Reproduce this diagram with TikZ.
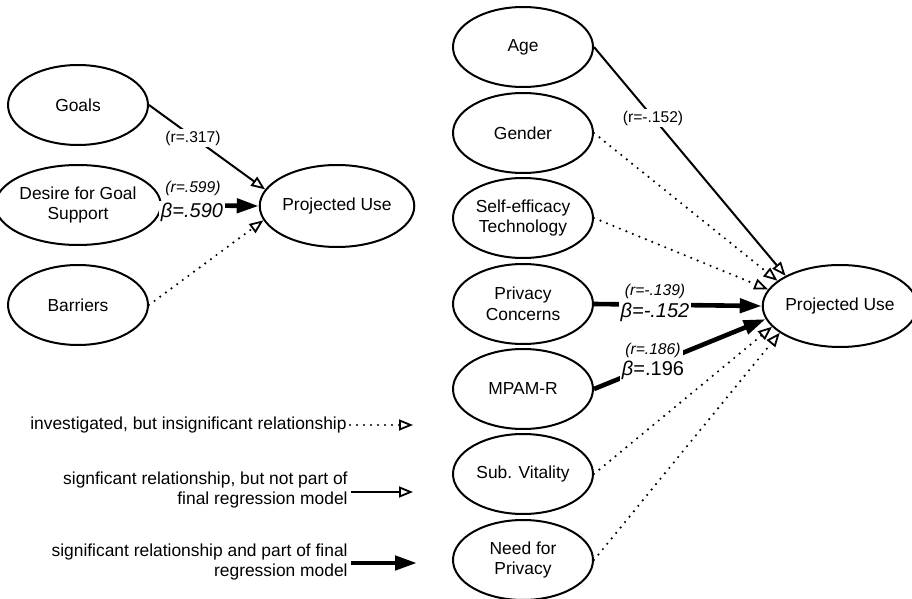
\documentclass[tikz,border=0pt]{standalone}
\usepackage{fontspec}
\setmainfont{Liberation Sans}
\usetikzlibrary{shapes.geometric,arrows.meta}

\begin{document}
\begin{tikzpicture}[x=0.5pt, y=-0.5pt,
    var/.style={ellipse, draw, line width=1pt, minimum width=70pt, minimum height=40pt,
      inner sep=0pt, align=center, font=\fontsize{8.7}{10.4}\selectfont},
    outc/.style={var, minimum height=41pt},
    nonsig/.style={line width=1.2pt, line cap=round, dash pattern=on 0pt off 3.5pt,
      -{Triangle[open, length=7pt, width=5.5pt, line width=0.9pt]}},
    sig/.style={line width=1pt, -{Triangle[open, length=7pt, width=5.5pt, line width=0.9pt]}},
    model/.style={line width=2.3pt, -{Triangle[length=11pt, width=7pt]}},
    rlab/.style={fill=white, inner sep=1pt, font=\fontsize{7.8}{9}\selectfont},
    rlabit/.style={rlab, font=\fontsize{7.8}{9}\selectfont\itshape},
    blab/.style={fill=white, inner sep=1pt, font=\fontsize{10}{12}\selectfont\itshape},
    legtext/.style={anchor=east, align=right, inner sep=1.5pt, font=\fontsize{8.7}{10.4}\selectfont}]
    \useasboundingbox (0,0) rectangle (912,599);

    % first model
    \node[var] (goals) at (78,105) {Goals};
    \node[var] (desire) at (78,205) {Desire for Goal\\Support};
    \node[var] (barriers) at (78,305) {Barriers};
    \node[outc] (useA) at (337,206) {Projected Use};

    % second model
    \node[var] (age) at (523,47) {Age};
    \node[var] (gender) at (523,133) {Gender};
    \node[var] (selfeff) at (523,218) {Self-efficacy\\Technology};
    \node[var] (privacy) at (523,304) {Privacy\\Concerns};
    \node[var] (mpam) at (523,389) {MPAM-R};
    \node[var] (vitality) at (523,474) {Sub. Vitality};
    \node[var] (needpriv) at (523,560) {Need for\\Privacy};
    \node[outc] (useB) at (840,306) {Projected Use};

    \draw[sig] (goals.east) -- (useA.167);
    \draw[model] (desire.east) -- (useA.180);
    \draw[nonsig] (barriers.east) -- (useA.191);

    \draw[sig] (age.east) -- (useB.151);
    \draw[nonsig] (gender.east) -- (useB.158);
    \draw[nonsig] (selfeff.east) -- (useB.167);
    \draw[model] (privacy.east) -- (useB.180);
    \draw[model] (mpam.east) -- (useB.190);
    \draw[nonsig] (vitality.east) -- (useB.197);
    \draw[nonsig] (needpriv.east) -- (useB.204);

    % coefficients on top of the lines
    \node[rlab] (rgoals) at (193,138) {(r=.317)};
    \node[rlabit] (rdesire) at (193,188) {(r=.599)};
    \node[blab] (bdesire) at (192,212) {β=.590};
    \node[rlab] (rage) at (653,118) {(r=-.152)};
    \node[rlabit] (rpriv) at (655,291) {(r=-.139)};
    \node[blab] (bpriv) at (655,312) {β=-.152};
    \node[rlabit] (rmpam) at (653,350) {(r=.186)};
    \node[blab, font=\fontsize{10}{12}\selectfont] (bmpam) at (653,370) {\textit{β}=.196};

    % legend
    \node[legtext] (leg1) at (350,425) {investigated, but insignificant relationship};
    \node[legtext] (leg2) at (351,490) {signficant relationship, but not part of\\final regression model};
    \node[legtext] (leg3) at (351,562) {significant relationship and part of final\\regression model};
    \coordinate (leg1end) at (413,425);
    \coordinate (leg2end) at (413,492);
    \coordinate (leg3end) at (417,563);
    \draw[nonsig] (leg1.east) -- (leg1end);
    \draw[sig] (leg2.east |- leg2end) -- (leg2end);
    \draw[model] (leg3.east |- leg3end) -- (leg3end);
\end{tikzpicture}
\end{document}
